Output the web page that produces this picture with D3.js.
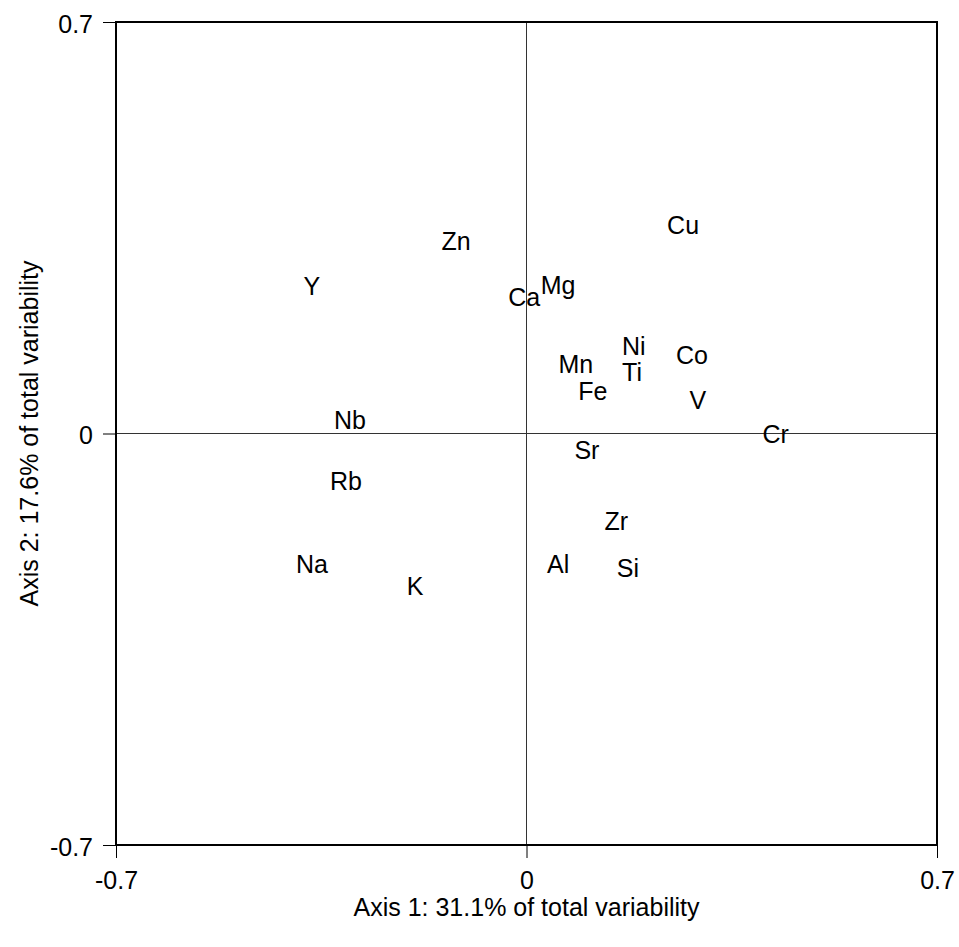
<!DOCTYPE html>
<html>
<head>
<meta charset="utf-8">
<script src="https://cdn.jsdelivr.net/npm/d3@7"></script>
<style>
  body { margin: 0; background: #fff; }
  text { font-family: "Liberation Sans", Arial, sans-serif; fill: #000; }
</style>
</head>
<body>
<svg width="959" height="947"></svg>
<script>
const svg = d3.select("svg");

// element labels with their coordinates on axis 1 and axis 2
const elements = ["Cu","Zn","Y","Mg","Ca","Ni","Co","Mn","Ti","Fe","V","Nb","Cr","Sr","Rb","Zr","Na","Al","Si","K"];
const axis1 = [0.267,-0.120,-0.366,0.054,-0.004,0.183,0.282,0.084,0.180,0.113,0.292,-0.301,0.425,0.103,-0.308,0.153,-0.366,0.054,0.173,-0.190];
const axis2 = [0.355,0.328,0.251,0.253,0.232,0.149,0.134,0.118,0.105,0.072,0.057,0.023,-0.001,-0.028,-0.081,-0.149,-0.222,-0.222,-0.229,-0.259];
const tickVals = [-0.7, 0, 0.7];
const tickLabels = ["-0.7", "0", "0.7"];

const plotL = 116, plotR = 937, plotT = 22, plotB = 845;

const x = d3.scaleLinear().domain([-0.7, 0.7]).range([plotL, plotR]);
const y = d3.scaleLinear().domain([-0.7, 0.7]).range([plotB, plotT]);

// zero lines
svg.append("line")
  .attr("x1", x(0)).attr("x2", x(0))
  .attr("y1", plotT).attr("y2", plotB)
  .attr("stroke", "#333").attr("stroke-width", 1);
svg.append("line")
  .attr("x1", plotL).attr("x2", plotR)
  .attr("y1", y(0)).attr("y2", y(0))
  .attr("stroke", "#333").attr("stroke-width", 1);

// axes
const xAxis = svg.append("g")
  .attr("transform", `translate(0,${plotB})`)
  .call(d3.axisBottom(x).tickValues(tickVals)
    .tickFormat((d, i) => tickLabels[i]).tickSize(13).tickPadding(13));
const yAxis = svg.append("g")
  .attr("transform", `translate(${plotL},0)`)
  .call(d3.axisLeft(y).tickValues(tickVals)
    .tickFormat((d, i) => tickLabels[i]).tickSize(13).tickPadding(10));

[xAxis, yAxis].forEach(g => {
  g.select(".domain").remove();
  g.selectAll("line").attr("stroke", "#000").attr("stroke-width", 1);
  g.selectAll("text").style("font-size", "25px")
    .style("font-family", "'Liberation Sans', Arial, sans-serif");
});
yAxis.selectAll("text").attr("dy", "0.4em");

// frame
svg.append("rect")
  .attr("x", plotL).attr("y", plotT)
  .attr("width", plotR - plotL).attr("height", plotB - plotT)
  .attr("fill", "none").attr("stroke", "#000").attr("stroke-width", 2);

// element labels
svg.selectAll("text.el")
  .data(elements)
  .enter()
  .append("text")
  .attr("class", "el")
  .attr("x", (d, i) => x(axis1[i]))
  .attr("y", (d, i) => y(axis2[i]))
  .attr("dy", "0.36em")
  .attr("text-anchor", "middle")
  .style("font-size", "25px")
  .text(d => d);

// axis titles
svg.append("text")
  .attr("x", (plotL + plotR) / 2)
  .attr("y", 916)
  .attr("text-anchor", "middle")
  .style("font-size", "25px")
  .text("Axis 1: 31.1% of total variability");

svg.append("text")
  .attr("transform", `translate(38,${(plotT + plotB) / 2}) rotate(-90)`)
  .attr("text-anchor", "middle")
  .style("font-size", "25px")
  .text("Axis 2: 17.6% of total variability");
</script>
</body>
</html>
